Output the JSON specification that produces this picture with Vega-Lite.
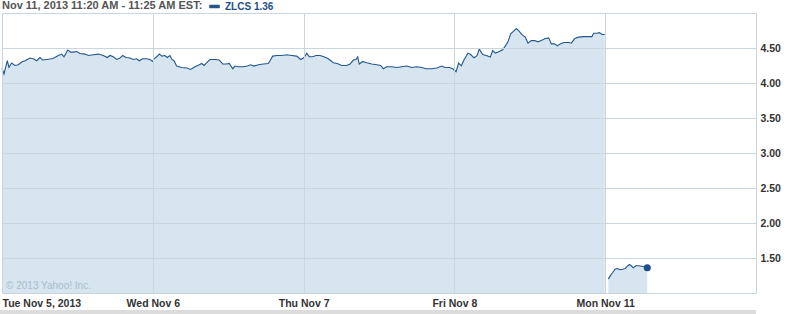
{
  "$schema": "https://vega.github.io/schema/vega-lite/v6.json",
  "width": 754,
  "height": 280,
  "autosize": "none",
  "padding": {"left": 2, "top": 13, "right": 47, "bottom": 21},
  "background": "white",
  "config": {"view": {"stroke": null}},
  "data": {"values": [
    {"t":0,"v":4.214,"s":1},{"t":0.013,"v":4.128,"s":1},{"t":0.035,"v":4.318,"s":1},{"t":0.046,"v":4.222,"s":1},{"t":0.064,"v":4.285,"s":1},{"t":0.086,"v":4.251,"s":1},{"t":0.108,"v":4.261,"s":1},{"t":0.131,"v":4.299,"s":1},{"t":0.153,"v":4.318,"s":1},{"t":0.186,"v":4.356,"s":1},{"t":0.208,"v":4.346,"s":1},{"t":0.23,"v":4.318,"s":1},{"t":0.252,"v":4.364,"s":1},{"t":0.27,"v":4.328,"s":1},{"t":0.296,"v":4.336,"s":1},{"t":0.33,"v":4.346,"s":1},{"t":0.351,"v":4.364,"s":1},{"t":0.373,"v":4.393,"s":1},{"t":0.396,"v":4.413,"s":1},{"t":0.411,"v":4.374,"s":1},{"t":0.436,"v":4.47,"s":1},{"t":0.456,"v":4.441,"s":1},{"t":0.477,"v":4.441,"s":1},{"t":0.495,"v":4.45,"s":1},{"t":0.517,"v":4.421,"s":1},{"t":0.55,"v":4.413,"s":1},{"t":0.572,"v":4.393,"s":1},{"t":0.605,"v":4.403,"s":1},{"t":0.639,"v":4.413,"s":1},{"t":0.672,"v":4.393,"s":1},{"t":0.698,"v":4.364,"s":1},{"t":0.716,"v":4.393,"s":1},{"t":0.738,"v":4.374,"s":1},{"t":0.761,"v":4.336,"s":1},{"t":0.782,"v":4.356,"s":1},{"t":0.8,"v":4.393,"s":1},{"t":0.822,"v":4.364,"s":1},{"t":0.849,"v":4.356,"s":1},{"t":0.871,"v":4.336,"s":1},{"t":0.893,"v":4.346,"s":1},{"t":0.91,"v":4.318,"s":1},{"t":0.933,"v":4.346,"s":1},{"t":0.96,"v":4.346,"s":1},{"t":0.981,"v":4.336,"s":1},
    {"t":1.0,"v":4.308,"s":1},{"t":1.008,"v":4.346,"s":1},{"t":1.026,"v":4.374,"s":1},{"t":1.043,"v":4.413,"s":1},{"t":1.061,"v":4.384,"s":1},{"t":1.079,"v":4.393,"s":1},{"t":1.096,"v":4.364,"s":1},{"t":1.114,"v":4.393,"s":1},{"t":1.127,"v":4.336,"s":1},{"t":1.141,"v":4.318,"s":1},{"t":1.158,"v":4.242,"s":1},{"t":1.192,"v":4.222,"s":1},{"t":1.225,"v":4.214,"s":1},{"t":1.251,"v":4.194,"s":1},{"t":1.28,"v":4.232,"s":1},{"t":1.308,"v":4.261,"s":1},{"t":1.324,"v":4.279,"s":1},{"t":1.34,"v":4.251,"s":1},{"t":1.361,"v":4.299,"s":1},{"t":1.379,"v":4.336,"s":1},{"t":1.412,"v":4.336,"s":1},{"t":1.441,"v":4.328,"s":1},{"t":1.464,"v":4.271,"s":1},{"t":1.49,"v":4.271,"s":1},{"t":1.507,"v":4.279,"s":1},{"t":1.53,"v":4.204,"s":1},{"t":1.545,"v":4.242,"s":1},{"t":1.567,"v":4.232,"s":1},{"t":1.6,"v":4.232,"s":1},{"t":1.627,"v":4.242,"s":1},{"t":1.649,"v":4.261,"s":1},{"t":1.671,"v":4.242,"s":1},{"t":1.7,"v":4.261,"s":1},{"t":1.733,"v":4.271,"s":1},{"t":1.766,"v":4.279,"s":1},{"t":1.782,"v":4.336,"s":1},{"t":1.795,"v":4.384,"s":1},{"t":1.822,"v":4.393,"s":1},{"t":1.855,"v":4.393,"s":1},{"t":1.888,"v":4.403,"s":1},{"t":1.921,"v":4.393,"s":1},{"t":1.954,"v":4.384,"s":1},{"t":1.981,"v":4.336,"s":1},
    {"t":2.003,"v":4.364,"s":1},{"t":2.021,"v":4.424,"s":1},{"t":2.038,"v":4.374,"s":1},{"t":2.06,"v":4.374,"s":1},{"t":2.082,"v":4.393,"s":1},{"t":2.109,"v":4.393,"s":1},{"t":2.135,"v":4.374,"s":1},{"t":2.164,"v":4.346,"s":1},{"t":2.197,"v":4.289,"s":1},{"t":2.223,"v":4.279,"s":1},{"t":2.253,"v":4.251,"s":1},{"t":2.286,"v":4.251,"s":1},{"t":2.308,"v":4.271,"s":1},{"t":2.33,"v":4.328,"s":1},{"t":2.347,"v":4.336,"s":1},{"t":2.359,"v":4.374,"s":1},{"t":2.369,"v":4.271,"s":1},{"t":2.392,"v":4.308,"s":1},{"t":2.418,"v":4.289,"s":1},{"t":2.452,"v":4.271,"s":1},{"t":2.485,"v":4.261,"s":1},{"t":2.511,"v":4.251,"s":1},{"t":2.529,"v":4.204,"s":1},{"t":2.551,"v":4.232,"s":1},{"t":2.584,"v":4.232,"s":1},{"t":2.617,"v":4.222,"s":1},{"t":2.651,"v":4.232,"s":1},{"t":2.684,"v":4.242,"s":1},{"t":2.717,"v":4.222,"s":1},{"t":2.75,"v":4.232,"s":1},{"t":2.783,"v":4.222,"s":1},{"t":2.812,"v":4.204,"s":1},{"t":2.849,"v":4.204,"s":1},{"t":2.883,"v":4.214,"s":1},{"t":2.916,"v":4.242,"s":1},{"t":2.938,"v":4.222,"s":1},{"t":2.966,"v":4.222,"s":1},{"t":2.989,"v":4.204,"s":1},
    {"t":3.011,"v":4.161,"s":1},{"t":3.028,"v":4.285,"s":1},{"t":3.046,"v":4.246,"s":1},{"t":3.064,"v":4.332,"s":1},{"t":3.09,"v":4.427,"s":1},{"t":3.108,"v":4.407,"s":1},{"t":3.13,"v":4.36,"s":1},{"t":3.15,"v":4.389,"s":1},{"t":3.165,"v":4.484,"s":1},{"t":3.188,"v":4.407,"s":1},{"t":3.216,"v":4.389,"s":1},{"t":3.238,"v":4.37,"s":1},{"t":3.254,"v":4.464,"s":1},{"t":3.271,"v":4.427,"s":1},{"t":3.294,"v":4.446,"s":1},{"t":3.32,"v":4.474,"s":1},{"t":3.338,"v":4.531,"s":1},{"t":3.355,"v":4.588,"s":1},{"t":3.373,"v":4.701,"s":1},{"t":3.393,"v":4.74,"s":1},{"t":3.411,"v":4.777,"s":1},{"t":3.426,"v":4.748,"s":1},{"t":3.448,"v":4.692,"s":1},{"t":3.47,"v":4.655,"s":1},{"t":3.488,"v":4.569,"s":1},{"t":3.51,"v":4.606,"s":1},{"t":3.533,"v":4.606,"s":1},{"t":3.554,"v":4.588,"s":1},{"t":3.576,"v":4.606,"s":1},{"t":3.603,"v":4.635,"s":1},{"t":3.625,"v":4.645,"s":1},{"t":3.643,"v":4.559,"s":1},{"t":3.665,"v":4.559,"s":1},{"t":3.682,"v":4.531,"s":1},{"t":3.702,"v":4.559,"s":1},{"t":3.725,"v":4.578,"s":1},{"t":3.758,"v":4.578,"s":1},{"t":3.775,"v":4.569,"s":1},{"t":3.798,"v":4.635,"s":1},{"t":3.824,"v":4.655,"s":1},{"t":3.857,"v":4.663,"s":1},{"t":3.891,"v":4.663,"s":1},{"t":3.912,"v":4.663,"s":1},{"t":3.923,"v":4.711,"s":1},{"t":3.946,"v":4.711,"s":1},{"t":3.962,"v":4.72,"s":1},{"t":3.979,"v":4.692,"s":1},{"t":3.997,"v":4.692,"s":1},
    {"t":4.021,"v":1.198,"s":2},{"t":4.036,"v":1.255,"s":2},{"t":4.05,"v":1.293,"s":2},{"t":4.065,"v":1.34,"s":2},{"t":4.08,"v":1.35,"s":2},{"t":4.098,"v":1.332,"s":2},{"t":4.116,"v":1.34,"s":2},{"t":4.133,"v":1.35,"s":2},{"t":4.146,"v":1.379,"s":2},{"t":4.16,"v":1.407,"s":2},{"t":4.173,"v":1.389,"s":2},{"t":4.186,"v":1.36,"s":2},{"t":4.204,"v":1.389,"s":2},{"t":4.225,"v":1.389,"s":2},{"t":4.252,"v":1.379,"s":2},{"t":4.279,"v":1.36,"s":2}
  ]},
  "encoding": {
    "x": {"field": "t", "type": "quantitative", "scale": {"domain": [0, 5], "nice": false, "zero": false},
      "axis": {"title": null, "values": [0, 1, 2, 3, 4, 5], "labelExpr": "['Tue Nov 5, 2013','Wed Nov 6','Thu Nov 7','Fri Nov 8','Mon Nov 11',''][datum.value]", "labelFlush": true, "labelOverlap": false, "labelBound": false, "ticks": false, "domain": false, "grid": true, "gridColor": "#c8d6e0", "gridWidth": 1, "labelFont": "Liberation Sans", "labelFontWeight": "bold", "labelFontSize": 10.5, "labelColor": "#333333", "labelPadding": 5, "zindex": 1}},
    "y": {"field": "v", "type": "quantitative", "scale": {"domain": [1, 5], "nice": false, "zero": false},
      "axis": {"title": null, "orient": "right", "values": [1, 1.5, 2, 2.5, 3, 3.5, 4, 4.5, 5], "labelExpr": "datum.value == 1 || datum.value == 5 ? '' : format(datum.value, '.2f')", "ticks": false, "domain": false, "grid": true, "gridColor": "#c8d6e0", "gridWidth": 1, "labelFont": "Liberation Sans", "labelFontWeight": "bold", "labelFontSize": 10.5, "labelColor": "#333333", "labelPadding": 4, "labelAlign": "left", "labelBaseline": "middle", "labelOverlap": false, "labelBound": false, "zindex": 1}}
  },
  "layer": [
    {"mark": {"type": "area", "color": "#d6e5f0", "interpolate": "linear"},
     "encoding": {"y2": {"datum": 1}, "detail": {"field": "s", "type": "nominal"}, "y": {"field": "v", "type": "quantitative", "stack": null}}},
    {"mark": {"type": "line", "strokeWidth": 1.1},
     "encoding": {"detail": {"field": "s", "type": "nominal"},
       "color": {"datum": "ZLCS 1.36", "scale": {"range": ["#24568c"]},
         "legend": {"title": "Nov 11, 2013 11:20 AM - 11:25 AM EST:", "titleOrient": "left", "titlePadding": 5, "titleLimit": 400, "titleFont": "Liberation Sans", "titleFontSize": 11, "titleFontWeight": "bold", "titleColor": "#555555", "titleBaseline": "middle", "titleAnchor": "middle", "orient": "none", "legendX": 0, "legendY": -12, "padding": 0, "symbolType": "M-1,-0.3H1V0.3H-1Z", "symbolSize": 100, "symbolFillColor": "#24568c", "symbolStrokeColor": "#24568c", "symbolStrokeWidth": 0.5, "labelFont": "Liberation Sans", "labelFontWeight": "bold", "labelFontSize": 10, "labelColor": "#1f4f8a", "labelOffset": 5}}}},
    {"transform": [{"filter": "datum.t == 4.279"}],
     "mark": {"type": "point", "filled": true, "size": 50, "color": "#1f4f8a", "opacity": 1}},
    {"data": {"values": [{"t": 0.027, "v": 1.057, "label": "© 2013 Yahoo! Inc."}]},
     "mark": {"type": "text", "align": "left", "baseline": "alphabetic", "font": "Liberation Sans", "fontSize": 10, "color": "#a9bccb"},
     "encoding": {"text": {"field": "label"}}},
    {"mark": {"type": "rule", "color": "#dcdcdc", "strokeWidth": 3.5},
     "encoding": {"x": {"datum": -0.013}, "x2": {"datum": 5}, "y": {"datum": 0.724}}}
  ]
}
